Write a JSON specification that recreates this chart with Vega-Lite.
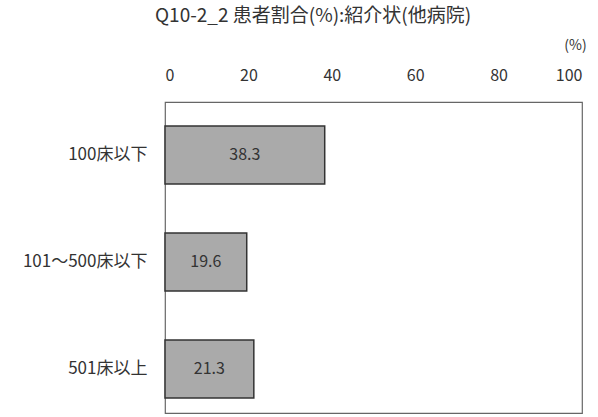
{
  "$schema": "https://vega.github.io/schema/vega-lite/v6.json",
  "width": 417,
  "height": 311,
  "autosize": "none",
  "padding": {"left": 165, "top": 102, "right": 16, "bottom": 4},
  "background": "white",
  "title": {
    "text": "Q10-2_2 患者割合(%):紹介状(他病院)",
    "anchor": "start",
    "frame": "group",
    "dx": -10,
    "offset": 12,
    "font": "Noto Sans CJK JP",
    "fontSize": 19,
    "fontWeight": "normal",
    "color": "#333333"
  },
  "config": {
    "view": {"stroke": "#666666", "strokeWidth": 1.2},
    "font": "Noto Sans CJK JP"
  },
  "data": {
    "values": [
      {"category": "100床以下", "pct": 38.3},
      {"category": "101〜500床以下", "pct": 19.6},
      {"category": "501床以上", "pct": 21.3}
    ]
  },
  "encoding": {
    "y": {
      "field": "category",
      "type": "nominal",
      "sort": null,
      "scale": {"paddingInner": 0.458, "paddingOuter": 0.182, "align": 0.615},
      "axis": {
        "title": null,
        "ticks": false,
        "domain": false,
        "labelPadding": 18,
        "labelFontSize": 17,
        "labelColor": "#333333",
        "labelFont": "Noto Sans CJK JP"
      }
    }
  },
  "layer": [
    {
      "mark": {"type": "bar", "fill": "#aaaaaa", "stroke": "#333333", "strokeWidth": 1.5},
      "encoding": {
        "x": {
          "field": "pct",
          "type": "quantitative",
          "scale": {"domain": [0, 100], "nice": false},
          "axis": {
            "orient": "top",
            "values": [0, 20, 40, 60, 80, 100],
            "grid": false,
            "ticks": false,
            "tickSize": 0,
            "domain": false,
            "labelPadding": 19,
            "labelFontSize": 16,
            "labelColor": "#333333",
            "labelFont": "Noto Sans CJK JP",
            "title": "(%)",
            "titleX": 410,
            "titleY": -57,
            "titleAlign": "center",
            "titleBaseline": "middle",
            "titleFontSize": 14,
            "titleFontWeight": "normal",
            "titleColor": "#333333",
            "titleFont": "Noto Sans CJK JP"
          }
        }
      }
    },
    {
      "mark": {"type": "text", "fontSize": 16, "color": "#333333", "align": "center", "baseline": "middle"},
      "encoding": {
        "x": {
          "field": "pct",
          "type": "quantitative",
          "scale": {"domain": [0, 100], "nice": false, "range": [0, 208.5]},
          "axis": null
        },
        "text": {"field": "pct", "type": "quantitative", "format": ".1f"}
      }
    }
  ],
  "resolve": {"scale": {"x": "independent"}, "axis": {"x": "independent"}}
}
